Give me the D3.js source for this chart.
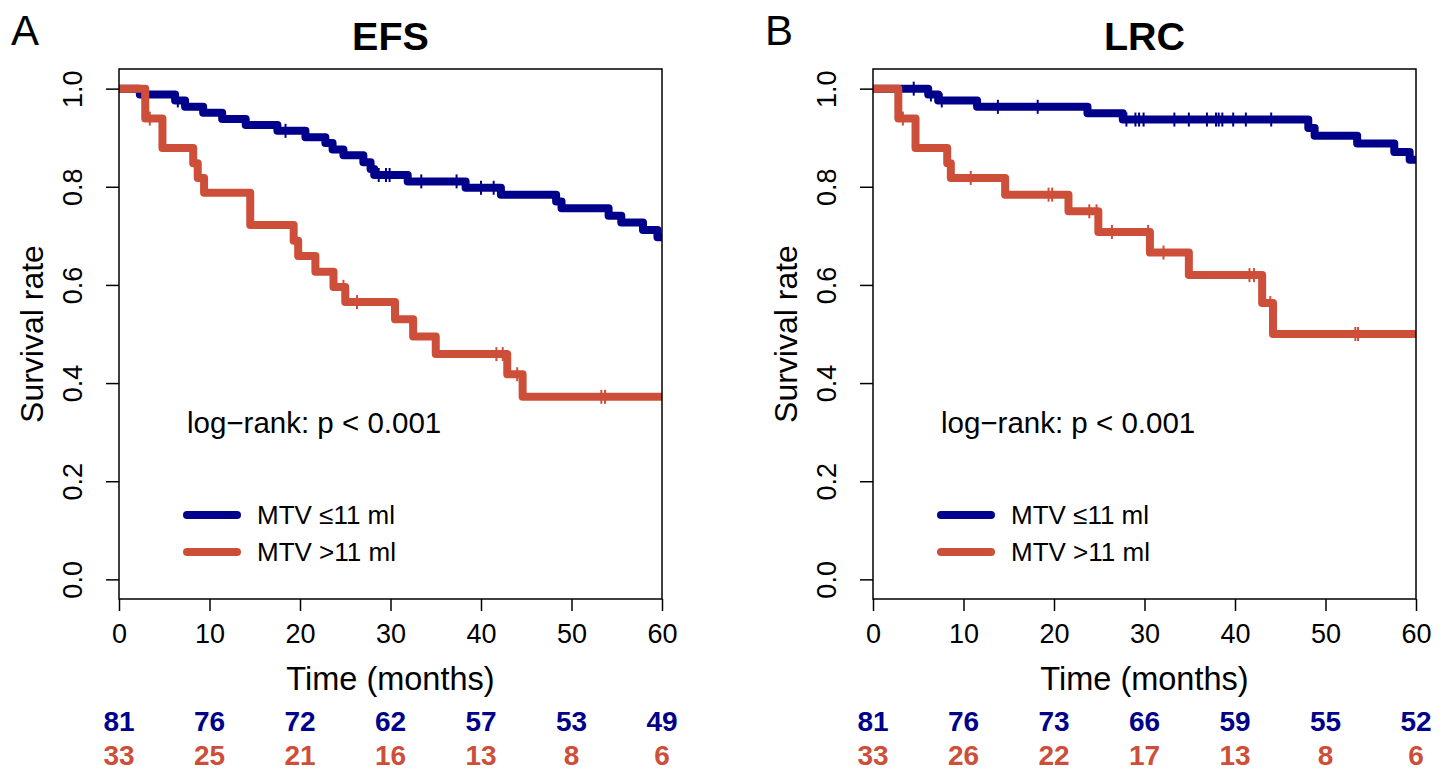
<!DOCTYPE html>
<html>
<head>
<meta charset="utf-8">
<script src="https://cdn.jsdelivr.net/npm/d3@7"></script>
<style>
  body { margin: 0; background: #fff; }
  text { font-family: "Liberation Sans", Arial, sans-serif; }
</style>
</head>
<body>
<svg id="chart" width="1449" height="772"></svg>
<script>
// ---------------- data ----------------
const panelLetters = ["A", "B"];
const panelTitles = ["EFS", "LRC"];
const seriesNames = ["MTV \u226411 ml", "MTV >11 ml"];
const xTicks = [0, 10, 20, 30, 40, 50, 60];
const yTicks = [0.0, 0.2, 0.4, 0.6, 0.8, 1.0];
const pText = "log\u2212rank: p < 0.001";

// EFS, MTV <= 11 ml
const efsLowTime = [0, 2.3, 6.2, 7.3, 9.3, 11.4, 14.0, 17.5, 20.6, 22.8, 23.6, 24.8, 27.0, 27.8, 28.2, 31.9, 38.3, 42.2, 48.3, 48.9, 54.1, 55.5, 57.9, 59.5];
const efsLowSurv = [1.0, 0.988, 0.976, 0.963, 0.951, 0.938, 0.926, 0.914, 0.901, 0.889, 0.876, 0.864, 0.850, 0.836, 0.824, 0.811, 0.798, 0.784, 0.770, 0.756, 0.741, 0.727, 0.712, 0.697];
const efsLowCensor = [6.5, 18.4, 28.7, 29.5, 29.9, 33.4, 37.3, 40.0, 41.4];
// EFS, MTV > 11 ml
const efsHighTime = [0, 2.9, 4.8, 8.2, 8.7, 9.4, 14.5, 19.3, 19.8, 21.7, 23.7, 25.0, 30.5, 32.5, 35.0, 42.9, 44.6];
const efsHighSurv = [1.0, 0.939, 0.879, 0.848, 0.818, 0.788, 0.722, 0.690, 0.659, 0.627, 0.596, 0.565, 0.530, 0.495, 0.459, 0.418, 0.372];
const efsHighCensor = [3.4, 24.8, 26.3, 41.7, 42.4, 44.0, 53.3, 53.7];
// LRC, MTV <= 11 ml
const lrcLowTime = [0, 6.1, 7.2, 11.5, 23.7, 27.6, 48.1, 48.8, 53.5, 57.6, 59.3];
const lrcLowSurv = [1.0, 0.988, 0.976, 0.963, 0.950, 0.937, 0.920, 0.904, 0.888, 0.871, 0.855];
const lrcLowCensor = [4.5, 6.4, 7.6, 13.8, 18.2, 28.0, 29.0, 29.4, 29.9, 33.3, 34.9, 36.9, 37.9, 38.2, 38.6, 39.8, 41.2, 44.0];
// LRC, MTV > 11 ml
const lrcHighTime = [0, 2.8, 4.7, 8.2, 8.6, 14.6, 21.6, 24.9, 30.6, 34.9, 43.0, 44.2];
const lrcHighSurv = [1.0, 0.939, 0.879, 0.848, 0.818, 0.784, 0.750, 0.708, 0.666, 0.620, 0.563, 0.500];
const lrcHighCensor = [3.3, 10.8, 19.4, 19.8, 23.9, 24.7, 26.4, 30.4, 32.1, 41.6, 42.1, 43.9, 53.3, 53.6];

// numbers at risk
const efsLowRisk = [81, 76, 72, 62, 57, 53, 49];
const efsHighRisk = [33, 25, 21, 16, 13, 8, 6];
const lrcLowRisk = [81, 76, 73, 66, 59, 55, 52];
const lrcHighRisk = [33, 26, 22, 17, 13, 8, 6];

const colors = ["#00008B", "#CD4F39"];

const panels = [
  { series: [
      { t: efsLowTime, s: efsLowSurv, c: efsLowCensor, risk: efsLowRisk },
      { t: efsHighTime, s: efsHighSurv, c: efsHighCensor, risk: efsHighRisk } ] },
  { series: [
      { t: lrcLowTime, s: lrcLowSurv, c: lrcLowCensor, risk: lrcLowRisk },
      { t: lrcHighTime, s: lrcHighSurv, c: lrcHighCensor, risk: lrcHighRisk } ] }
];

// ---------------- drawing ----------------
(function () {
const svg = d3.select("#chart");
const FONT = "'Liberation Sans', Arial, sans-serif";
const plotW = 543, left0 = 119, plotTop = 69, plotBottom = 599, offset = 754;

panels.forEach((p, i) => {
  const L = left0 + i * offset;
  const x = d3.scaleLinear().domain([0, 60]).range([L, L + plotW]);
  const y = d3.scaleLinear().domain([-0.04, 1.04]).range([plotBottom, plotTop]);
  const g = svg.append("g");

  const clipId = "clip" + i;
  svg.append("defs").append("clipPath").attr("id", clipId)
    .append("rect").attr("x", L).attr("y", plotTop).attr("width", plotW).attr("height", plotBottom - plotTop);

  // panel letter and title
  g.append("text").attr("x", L - 108).attr("y", 45).attr("font-size", 42)
    .attr("font-family", FONT).text(panelLetters[i]);
  g.append("text").attr("x", x(30)).attr("y", 50).attr("text-anchor", "middle")
    .attr("font-size", 39.5).attr("font-weight", "bold").attr("font-family", FONT).text(panelTitles[i]);

  // curves
  const line = d3.line().x(d => x(d[0])).y(d => y(d[1])).curve(d3.curveStepAfter);
  const cg = g.append("g").attr("clip-path", `url(#${clipId})`);
  p.series.forEach((s, k) => {
    const pts = s.t.map((t, j) => [t, s.s[j]]);
    pts.push([60, s.s[s.s.length - 1]]);
    cg.append("path").attr("d", line(pts)).attr("fill", "none")
      .attr("stroke", colors[k]).attr("stroke-width", 8)
      .attr("stroke-linejoin", "round").attr("stroke-linecap", "round");
    const survAt = t => { let v = s.s[0]; s.t.forEach((tt, j) => { if (tt <= t) v = s.s[j]; }); return v; };
    cg.selectAll(null).data(s.c).enter().append("line")
      .attr("x1", d => x(d)).attr("x2", d => x(d))
      .attr("y1", d => y(survAt(d)) - 7).attr("y2", d => y(survAt(d)) + 7)
      .attr("stroke", colors[k]).attr("stroke-width", 2);
  });

  // box
  g.append("rect").attr("x", L).attr("y", plotTop).attr("width", plotW).attr("height", plotBottom - plotTop)
    .attr("fill", "none").attr("stroke", "#000").attr("stroke-width", 1.5);

  // y axis
  const ya = g.append("g").attr("transform", `translate(${L},0)`)
    .call(d3.axisLeft(y).tickValues(yTicks).tickSize(13).tickFormat(d3.format(".1f")));
  ya.select(".domain").remove();
  ya.selectAll(".tick line").attr("stroke", "#000").attr("stroke-width", 1.5);
  ya.selectAll(".tick text").attr("font-size", 27).attr("font-family", FONT).attr("fill", "#000")
    .attr("text-anchor", "middle").attr("dy", null).attr("x", null)
    .attr("transform", "translate(-37,0) rotate(-90)");

  // x axis
  const xa = g.append("g").attr("transform", `translate(0,${plotBottom})`)
    .call(d3.axisBottom(x).tickValues(xTicks).tickSize(12));
  xa.select(".domain").remove();
  xa.selectAll(".tick line").attr("stroke", "#000").attr("stroke-width", 1.5);
  xa.selectAll(".tick text").attr("font-size", 27).attr("font-family", FONT).attr("fill", "#000")
    .attr("y", 44).attr("dy", null);

  // axis titles
  g.append("text").attr("transform", `translate(${L - 76},${(plotTop + plotBottom) / 2}) rotate(-90)`)
    .attr("text-anchor", "middle").attr("font-size", 32).attr("font-family", FONT).text("Survival rate");
  g.append("text").attr("x", x(30)).attr("y", 690).attr("text-anchor", "middle")
    .attr("font-size", 32.5).attr("font-family", FONT).text("Time (months)");

  // p-value
  g.append("text").attr("x", L + 68).attr("y", 433).attr("font-size", 29.5)
    .attr("font-family", FONT).text(pText);

  // legend
  const legY = [515, 552];
  seriesNames.forEach((name, k) => {
    g.append("line").attr("x1", L + 68).attr("x2", L + 118).attr("y1", legY[k]).attr("y2", legY[k])
      .attr("stroke", colors[k]).attr("stroke-width", 8).attr("stroke-linecap", "round");
    g.append("text").attr("x", L + 138).attr("y", legY[k]).attr("dy", "0.36em")
      .attr("font-size", 26).attr("font-family", FONT).text(name);
  });

  // numbers at risk
  const riskY = [731, 765];
  p.series.forEach((s, k) => {
    g.selectAll(null).data(s.risk).enter().append("text")
      .attr("x", (d, j) => x(xTicks[j])).attr("y", riskY[k])
      .attr("text-anchor", "middle").attr("font-size", 28).attr("font-weight", "bold")
      .attr("font-family", FONT).attr("fill", colors[k]).text(d => d);
  });
});
})();
</script>
</body>
</html>
